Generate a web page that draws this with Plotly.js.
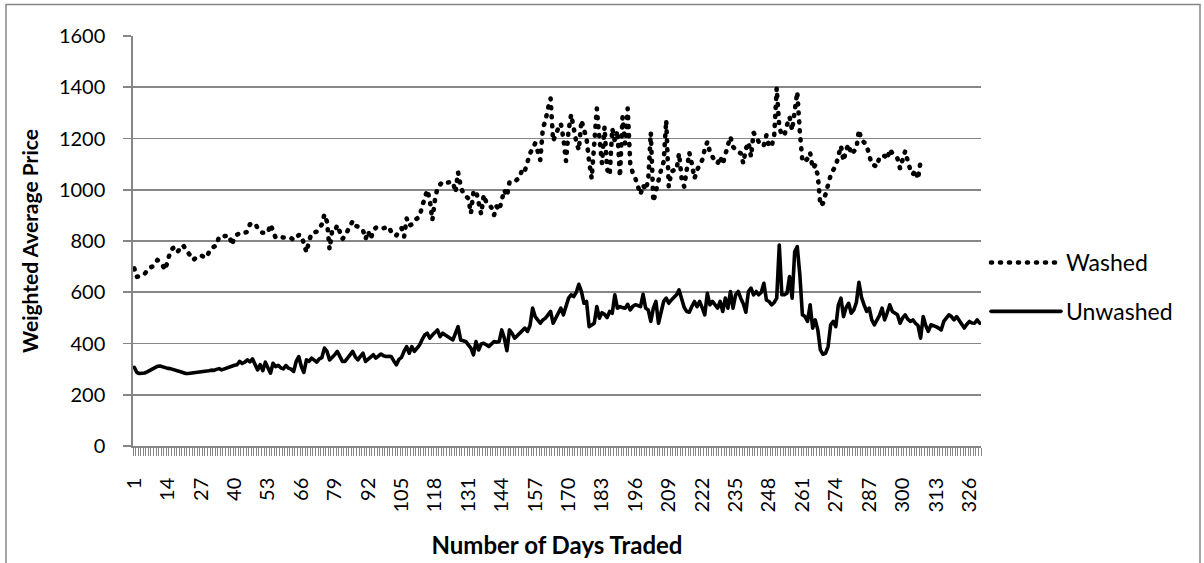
<!DOCTYPE html>
<html>
<head>
<meta charset="utf-8">
<script src="https://cdn.plot.ly/plotly-3.0.1.min.js"></script>
<style>
html, body { margin: 0; padding: 0; background: #fff; }
#chart { width: 1204px; height: 563px; }
.js-line { stroke-linecap: round; stroke-linejoin: round; }
</style>
</head>
<body>
<div id="chart"></div>
<script>
// ---- data ----
const seriesNames = ["Washed", "Unwashed"];

const washed = [
  693,660,663,668,671,685,696,700,712,726,
  716,706,687,728,758,772,778,760,770,784,
  768,752,738,726,735,742,743,738,735,755,
  771,778,782,817,818,815,820,821,784,818,
  825,830,834,832,836,865,868,869,850,836,
  832,830,832,865,840,813,815,814,813,814,
  813,812,804,815,823,823,784,756,800,830,
  834,836,850,865,904,875,768,840,838,862,
  835,808,820,839,850,878,860,856,852,842,
  808,838,808,840,852,854,855,850,853,856,
  835,821,822,840,850,817,888,860,865,880,
  890,895,934,973,999,960,882,960,1008,1020,
  1031,1031,1028,1030,1030,990,1068,1015,986,975,
  966,908,992,996,940,905,980,950,945,930,
  901,935,920,960,999,975,1029,1029,1030,1040,
  1047,1083,1075,1107,1142,1160,1181,1150,1116,1240,
  1270,1317,1356,1190,1219,1240,1258,1200,1112,1230,
  1294,1226,1187,1155,1271,1235,1200,1110,1044,1180,
  1317,1200,1103,1245,1080,1057,1239,1190,1230,1051,
  1284,1180,1317,1103,1064,1044,1005,982,1018,999,
  1038,1223,953,1000,1044,1077,1109,1271,1012,1070,
  1077,1077,1142,1044,1012,1070,1145,1100,1044,1077,
  1100,1116,1158,1187,1148,1129,1110,1103,1129,1099,
  1130,1174,1207,1168,1155,1150,1142,1103,1160,1185,
  1129,1223,1200,1187,1190,1174,1213,1168,1171,1207,
  1397,1245,1213,1213,1252,1284,1232,1294,1382,1225,
  1112,1109,1122,1145,1083,1096,1055,938,947,982,
  1021,1057,1077,1094,1132,1171,1112,1155,1177,1138,
  1150,1161,1233,1194,1185,1174,1135,1099,1095,1090,
  1129,1130,1132,1119,1158,1142,1130,1122,1083,1122,
  1151,1112,1077,1060,1077,1042,1112
];

const unwashed = [
  307,287,283,283,285,289,294,300,305,311,
  312,308,305,303,302,300,297,293,290,286,
  283,283,284,286,288,289,290,292,292,294,
  296,295,299,302,297,301,306,310,312,315,
  317,330,322,327,336,328,340,320,297,318,
  294,327,305,284,323,310,315,305,301,314,
  304,300,291,330,349,310,287,336,330,343,
  335,327,340,345,382,369,336,345,356,369,
  350,330,330,343,355,369,348,336,350,362,
  330,340,348,356,343,350,359,352,349,350,
  349,332,317,338,346,370,388,362,388,369,
  380,394,415,433,440,421,433,445,453,427,
  440,433,427,420,414,440,466,414,410,408,
  395,382,356,408,375,398,401,395,388,398,
  408,405,408,453,421,372,453,440,421,430,
  440,450,460,447,470,538,505,492,479,492,
  499,512,525,479,500,518,538,512,551,577,
  590,583,600,631,603,557,564,466,472,479,
  544,499,520,514,501,525,518,590,538,544,
  540,538,553,531,545,551,548,544,592,538,
  531,486,538,564,479,530,564,577,557,570,
  580,590,609,577,540,525,522,545,564,544,
  564,540,512,596,551,564,550,538,564,525,
  577,538,603,538,590,603,577,555,522,603,
  616,590,603,590,600,635,570,564,551,560,
  577,784,590,590,596,661,577,758,778,668,
  512,505,486,551,460,492,453,375,358,362,
  388,473,486,466,551,577,505,540,557,518,
  531,560,639,580,551,525,538,492,473,492,
  510,538,492,520,551,525,518,512,479,500,
  512,495,486,492,479,470,421,505,470,447,
  473,470,466,460,453,486,499,512,505,492,
  505,490,479,460,475,486,480,479,492,479
];

// category labels shown on the x axis (every 13th day)
const tickDays = [1,14,27,40,53,66,79,92,105,118,131,144,157,170,183,196,209,222,235,248,261,274,287,300,313,326];
const tickLabels = tickDays.map(String);

const xTitle = "Number of Days Traded";
const yTitle = "Weighted Average Price";

// day numbers (category positions) for each series
const daysWashed = washed.map((_, i) => i + 1);
const daysUnwashed = unwashed.map((_, i) => i + 1);

// ---- layout constants ----
const W = 1204, H = 563;
const M = { l: 133, r: 223, t: 36, b: 117 };
const PW = W - M.l - M.r, PH = H - M.t - M.b;
const px2x = p => (p - M.l) / PW;
const px2y = p => (H - M.b - p) / PH;
const FONT = "Lato, 'Noto Sans', sans-serif";
const AX = "#868686";

const traces = [
  {
    type: "scatter", mode: "lines", name: seriesNames[0],
    x: daysWashed, y: washed,
    line: { color: "#000", width: 4.6, dash: "1px,8px" },
    legendgroup: "a", hoverinfo: "skip"
  },
  {
    type: "scatter", mode: "lines", name: seriesNames[1],
    x: daysUnwashed, y: unwashed,
    line: { color: "#000", width: 3.6 },
    legendgroup: "b", hoverinfo: "skip"
  }
];

const layout = {
  width: W, height: H,
  margin: M,
  paper_bgcolor: "#fff", plot_bgcolor: "#fff",
  font: { family: FONT, color: "#000", size: 20 },
  showlegend: true,
  legend: {
    x: px2x(986), xanchor: "left",
    y: px2y(287), yanchor: "middle",
    font: { family: FONT, size: 23, color: "#000" },
    tracegroupgap: 16, traceorder: "grouped",
    itemwidth: 70, bgcolor: "rgba(0,0,0,0)"
  },
  xaxis: {
    type: "linear", range: [0.5, unwashed.length + 0.5],
    tickmode: "array", tickvals: tickDays, ticktext: tickLabels,
    tickangle: -90, ticks: "", showgrid: false, zeroline: false,
    showline: true, linecolor: AX, linewidth: 1.7,
    tickfont: { family: FONT, size: 20, color: "#000" },
    ticklabelstandoff: 22,
    minor: { tick0: 0.5, dtick: 1, ticks: "outside", ticklen: 8, tickcolor: AX, tickwidth: 1, showgrid: false },
    title: { text: "<b>" + xTitle + "</b>", font: { family: FONT, size: 24, color: "#000" }, standoff: 26 },
    fixedrange: true
  },
  yaxis: {
    range: [0, 1600], dtick: 200, tick0: 0,
    showgrid: true, gridcolor: AX, gridwidth: 1.6,
    zeroline: false, showline: true, linecolor: AX, linewidth: 1.7,
    ticks: "outside", ticklen: 8, tickcolor: AX, tickwidth: 1.6,
    tickfont: { family: FONT, size: 20, color: "#000" },
    ticklabelstandoff: 14,
    title: { text: "<b>" + yTitle + "</b>", font: { family: FONT, size: 21, color: "#000" }, standoff: 14 },
    fixedrange: true
  },
  shapes: [
    {
      type: "rect", xref: "paper", yref: "paper", layer: "below",
      x0: px2x(6), x1: px2x(1200), y0: px2y(600), y1: px2y(4.5),
      line: { color: AX, width: 1.5 }, fillcolor: "rgba(0,0,0,0)"
    }
  ]
};

Plotly.newPlot("chart", traces, layout, { staticPlot: true, displayModeBar: false });
</script>
</body>
</html>
